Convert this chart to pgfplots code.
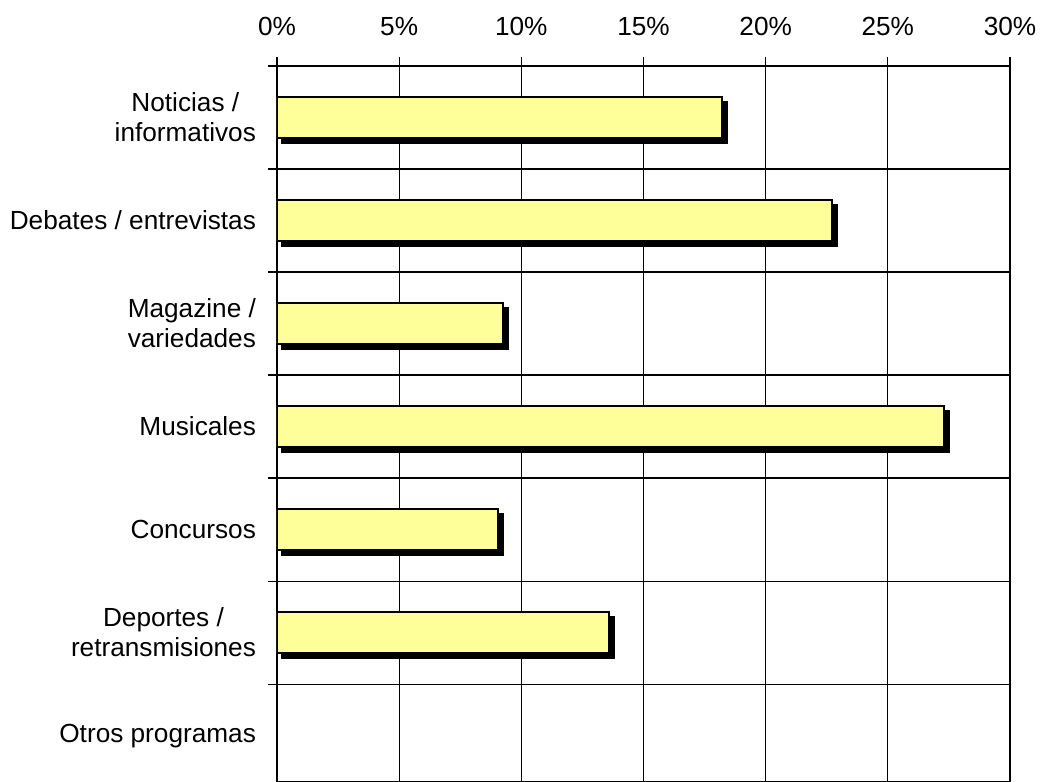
\documentclass[border=0pt]{standalone}
\usepackage{pgfplots}
\pgfplotsset{compat=1.18}
\usepackage{fontspec}
\setmainfont{Liberation Sans}
\definecolor{baryellow}{HTML}{FFFF99}
\begin{document}
\begin{tikzpicture}
\begin{axis}[
  scale only axis,
  width=366.5pt, height=358pt,
  xmin=0, xmax=30,
  ymin=-0.45, ymax=6.5,
  xtick={0,5,10,15,20,25,30},
  xticklabels={0\%,5\%,10\%,15\%,20\%,25\%,30\%},
  xticklabel pos=right,
  xtick pos=right,
  ytick pos=left,
  tick align=outside,
  major tick length=4.5pt,
  minor tick length=4.5pt,
  ytick={0,1,2,3,4,5,6},
  yticklabels={Otros programas,Deportes /\\retransmisiones,Concursos,Musicales,Magazine /\\variedades,Debates / entrevistas,Noticias /\\informativos},
  minor ytick={-0.5,0.5,1.5,2.5,3.5,4.5,5.5,6.5},
  major y tick style={draw=none},
  xmajorgrids, yminorgrids,
  grid style={black, line width=0.6pt},
  tick style={black, line width=0.6pt},
  axis line style={black, line width=0.6pt},
  hide obscured x ticks=false,
  every tick label/.append style={font=\fontsize{13.1}{15}\selectfont},
  yticklabel style={align=center, xshift=-2.5pt},
  xticklabel style={yshift=7pt},
  /pgf/number format/assume math mode=true,
  xbar, bar width=20.5pt, bar shift=0pt,
]
\addplot[fill=black, draw=black, line width=1pt, xshift=2.5pt, yshift=-2.5pt] coordinates {
  (18.2,6) (22.7,5) (9.25,4) (27.3,3) (9.05,2) (13.6,1)
};
\addplot[fill=baryellow, draw=black, line width=1pt] coordinates {
  (18.2,6) (22.7,5) (9.25,4) (27.3,3) (9.05,2) (13.6,1)
};
\end{axis}
\pgfresetboundingbox
\path ([xshift=-138.5pt]current axis.south west) rectangle ([xshift=15pt,yshift=33pt]current axis.north east);
\end{tikzpicture}
\end{document}
